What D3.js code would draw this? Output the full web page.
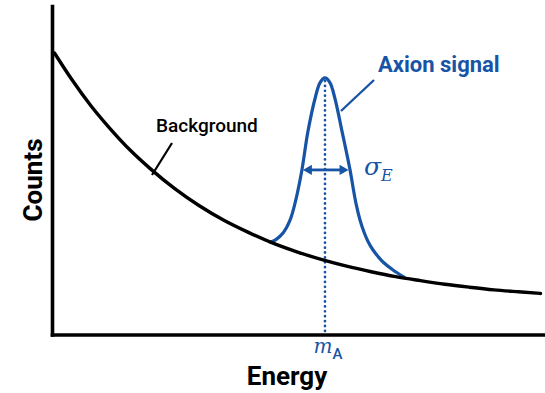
<!DOCTYPE html>
<html>
<head>
<meta charset="utf-8">
<script src="https://cdn.jsdelivr.net/npm/d3@7"></script>
<style>
  html, body { margin: 0; padding: 0; background: #ffffff; }
  svg { display: block; }
</style>
</head>
<body>
<svg id="chart" width="545" height="393"></svg>
<script>
// Falling background spectrum (energy in arbitrary units, counts in arbitrary units)
const bgEnergy = [0.5, 4, 8, 12, 16, 20, 25, 30, 35, 40, 45, 50, 55, 60, 65, 70, 75, 80, 85, 90, 95, 99.5];
const bgCounts = [85.7, 77.7, 69.5, 62.4, 56.0, 50.5, 44.4, 39.2, 34.8, 31.1, 27.8, 25.1, 22.8, 20.8, 19.1, 17.6, 16.4, 15.3, 14.4, 13.6, 13.0, 12.5];

// Axion peak sitting on top of the background
const sigEnergy = [44.4, 45.6, 47.05, 48.5, 49.5, 50.9, 52.1, 53.6, 54.6, 55.6, 56.6, 57.6, 59.1, 60.7, 61.3, 61.9, 62.73, 63.54, 64.36, 65.38, 66.4, 67.41, 69.45, 71.69];
const sigCounts = [28.1, 28.9, 30.9, 34.9, 40.0, 50.1, 61.6, 72.0, 76.7, 78.1, 76.7, 72.0, 61.6, 50.1, 44.9, 40.0, 34.86, 31.2, 28.31, 25.72, 23.74, 22.07, 19.63, 17.45];

// Peak position and width marker (half maximum)
const massA = 55.6;
const peakCounts = 78.1;
const sigmaLeft = 51.1;
const sigmaRight = 60.4;
const sigmaCounts = 50.1;

const labels = { x: "Energy", y: "Counts", bg: "Background", sig: "Axion signal" };

const BLUE = "#1754a5";
const svg = d3.select("#chart");

const x = d3.scaleLinear().domain([0, 100]).range([52, 543]);
const y = d3.scaleLinear().domain([0, 100]).range([334.5, 6]);

// Axes: plain lines, no ticks
const xAxis = svg.append("g").attr("transform", `translate(0,${y(0)})`)
  .call(d3.axisBottom(x).ticks(0).tickSizeOuter(0));
const yAxis = svg.append("g").attr("transform", `translate(${x(0)},0)`)
  .call(d3.axisLeft(y).ticks(0).tickSizeOuter(0));
[xAxis, yAxis].forEach(g => g.select(".domain")
  .attr("stroke", "#000").attr("stroke-width", 3.6).attr("stroke-linecap", "square"));

// Dotted line at the axion mass
svg.append("line")
  .attr("x1", x(massA)).attr("x2", x(massA))
  .attr("y1", y(peakCounts) + 3).attr("y2", y(0) - 3)
  .attr("stroke", BLUE).attr("stroke-width", 2.7)
  .attr("stroke-linecap", "round").attr("stroke-dasharray", "0.1 4.8");

// Signal curve
const sigLine = d3.line().x(d => x(d[0])).y(d => y(d[1])).curve(d3.curveCatmullRom.alpha(0.5));
svg.append("path")
  .datum(sigEnergy.map((e, i) => [e, sigCounts[i]]))
  .attr("d", sigLine)
  .attr("fill", "none").attr("stroke", BLUE).attr("stroke-width", 3.2)
  .attr("stroke-linejoin", "round").attr("stroke-linecap", "round");

// Background curve
const bgLine = d3.line().x(d => x(d[0])).y(d => y(d[1])).curve(d3.curveMonotoneX);
svg.append("path")
  .datum(bgEnergy.map((e, i) => [e, bgCounts[i]]))
  .attr("d", bgLine)
  .attr("fill", "none").attr("stroke", "#000").attr("stroke-width", 3.4)
  .attr("stroke-linecap", "round");

// Double-headed width arrow
const ay = y(sigmaCounts), xl = x(sigmaLeft), xr = x(sigmaRight);
const head = 9, hw = 5.2;
svg.append("line")
  .attr("x1", xl + head - 1).attr("x2", xr - head + 1)
  .attr("y1", ay).attr("y2", ay)
  .attr("stroke", BLUE).attr("stroke-width", 2.8);
svg.append("path")
  .attr("d", `M${xl},${ay}L${xl + head},${ay - hw}L${xl + head},${ay + hw}Z`)
  .attr("fill", BLUE);
svg.append("path")
  .attr("d", `M${xr},${ay}L${xr - head},${ay - hw}L${xr - head},${ay + hw}Z`)
  .attr("fill", BLUE);

// Callout lines
svg.append("line").attr("x1", 341).attr("y1", 111).attr("x2", 374).attr("y2", 80)
  .attr("stroke", BLUE).attr("stroke-width", 2.4);
svg.append("line").attr("x1", 172).attr("y1", 143).attr("x2", 152).attr("y2", 175)
  .attr("stroke", "#000").attr("stroke-width", 2.2);

// Text
svg.append("text").attr("x", 378).attr("y", 71.5)
  .attr("font-family", "Roboto, sans-serif").attr("font-weight", 700)
  .attr("font-size", 22).attr("fill", BLUE).text(labels.sig);

svg.append("text").attr("x", 156).attr("y", 132)
  .attr("font-family", "Roboto, sans-serif").attr("font-weight", 500)
  .attr("font-size", 19).attr("fill", "#000").text(labels.bg);

svg.append("text").attr("transform", "translate(42,180) rotate(-90)")
  .attr("text-anchor", "middle")
  .attr("font-family", "Roboto, sans-serif").attr("font-weight", 700)
  .attr("font-size", 26).attr("fill", "#000").text(labels.y);

svg.append("text").attr("x", 287).attr("y", 385)
  .attr("text-anchor", "middle")
  .attr("font-family", "Roboto, sans-serif").attr("font-weight", 700)
  .attr("font-size", 26).attr("fill", "#000").text(labels.x);

// m_A below the axis
const mA = svg.append("text").attr("x", x(massA) + 3).attr("y", 353)
  .attr("text-anchor", "middle").attr("fill", BLUE);
mA.append("tspan").attr("font-family", "'DejaVu Serif', serif")
  .attr("font-style", "italic").attr("font-size", 20).text("m");
mA.append("tspan").attr("font-family", "Roboto, sans-serif").attr("font-weight", 500)
  .attr("font-size", 15).attr("dy", 6).text("A");

// sigma_E beside the arrow
const sg = svg.append("text").attr("x", 364).attr("y", 175).attr("fill", BLUE);
sg.append("tspan").attr("font-family", "'DejaVu Serif', serif")
  .attr("font-style", "italic").attr("font-size", 25).text("σ");
sg.append("tspan").attr("font-family", "'DejaVu Serif', serif")
  .attr("font-style", "italic").attr("font-size", 16).attr("dy", 6).text("E");
</script>
</body>
</html>
